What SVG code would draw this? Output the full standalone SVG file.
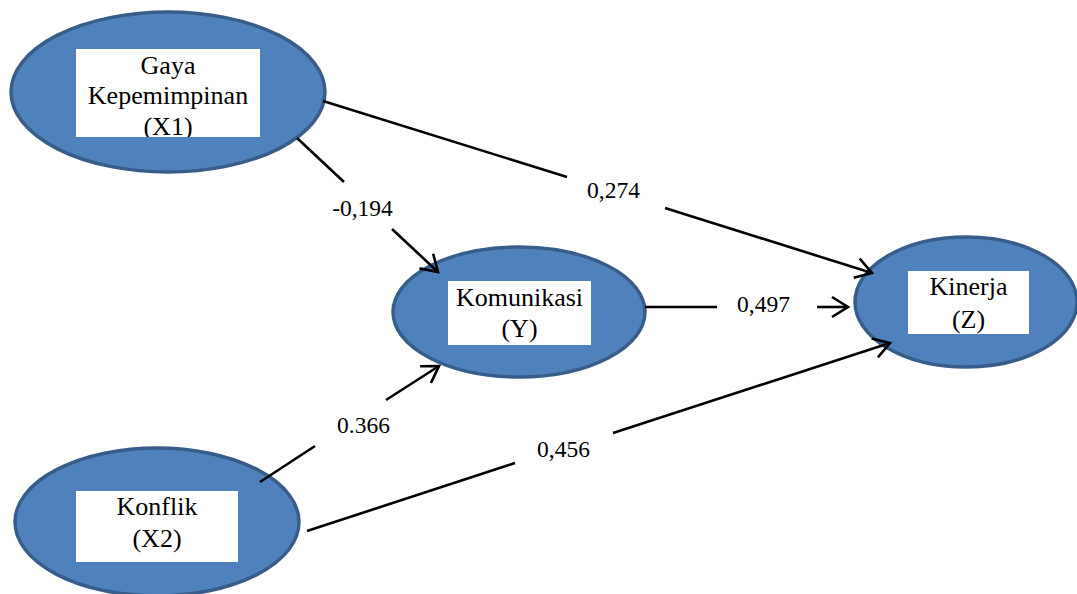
<svg xmlns="http://www.w3.org/2000/svg" width="1077" height="594" viewBox="0 0 1077 594">
<style>
.node ellipse{fill:#4f81bd;stroke:#385d8a;stroke-width:3.5}
.box{fill:#ffffff}
.nt{font-family:"Liberation Serif","Times New Roman",serif;font-size:26px;fill:#000;text-anchor:middle}
.lbl{font-family:"Liberation Serif","Times New Roman",serif;font-size:23.5px;fill:#000;text-anchor:middle}
.edge{stroke:#000;stroke-width:2.6;fill:none}
</style>
<defs>
<marker id="arr" markerUnits="userSpaceOnUse" viewBox="-20 -13 24 26" markerWidth="24" markerHeight="26" refX="0" refY="0" orient="auto" overflow="visible">
<path d="M-16,-10 L0,0 L-16,10" fill="none" stroke="#000" stroke-width="2.6" stroke-linejoin="miter"/>
</marker>
<clipPath id="c1"><rect x="76" y="49" width="184" height="88"/></clipPath>
</defs>
<rect width="1077" height="594" fill="#ffffff"/>
<g id="X1" class="node">
<ellipse cx="168" cy="92" rx="157" ry="80"/>
<rect class="box" x="76" y="49" width="184" height="88"/>
<g clip-path="url(#c1)">
<text class="nt" x="168" y="74">Gaya</text>
<text class="nt" x="168" y="104">Kepemimpinan</text>
<text class="nt" x="168" y="135">(X1)</text>
</g>
</g>
<g id="Y" class="node">
<ellipse cx="519" cy="312" rx="126" ry="65"/>
<rect class="box" x="448" y="281" width="143" height="64"/>
<text class="nt" x="519.5" y="306">Komunikasi</text>
<text class="nt" x="519.5" y="337">(Y)</text>
</g>
<g id="Z" class="node">
<ellipse cx="966" cy="302" rx="111" ry="65"/>
<rect class="box" x="908" y="271" width="121" height="63"/>
<text class="nt" x="968.5" y="295">Kinerja</text>
<text class="nt" x="968.5" y="328">(Z)</text>
</g>
<g id="X2" class="node">
<ellipse cx="157" cy="522" rx="142" ry="74"/>
<rect class="box" x="76" y="491" width="162" height="71"/>
<text class="nt" x="157" y="515">Konflik</text>
<text class="nt" x="157" y="547">(X2)</text>
</g>
<g id="connectors">
<line class="edge" x1="323" y1="101" x2="567" y2="177"/>
<line class="edge" x1="665" y1="208" x2="872" y2="273" marker-end="url(#arr)"/>
<text class="lbl" x="613.5" y="198">0,274</text>
<line class="edge" x1="297" y1="138" x2="344" y2="182"/>
<line class="edge" x1="392" y1="229" x2="438" y2="272" marker-end="url(#arr)"/>
<text class="lbl" x="362.5" y="216">-0,194</text>
<line class="edge" x1="645" y1="307" x2="717" y2="307"/>
<line class="edge" x1="817" y1="307" x2="848" y2="307" marker-end="url(#arr)"/>
<text class="lbl" x="763.5" y="312">0,497</text>
<line class="edge" x1="260" y1="482" x2="315" y2="446"/>
<line class="edge" x1="386" y1="400" x2="439" y2="366" marker-end="url(#arr)"/>
<text class="lbl" x="363.5" y="433">0.366</text>
<line class="edge" x1="307" y1="531" x2="515" y2="463"/>
<line class="edge" x1="613" y1="433" x2="890" y2="343" marker-end="url(#arr)"/>
<text class="lbl" x="563.5" y="457">0,456</text>
</g>
</svg>
